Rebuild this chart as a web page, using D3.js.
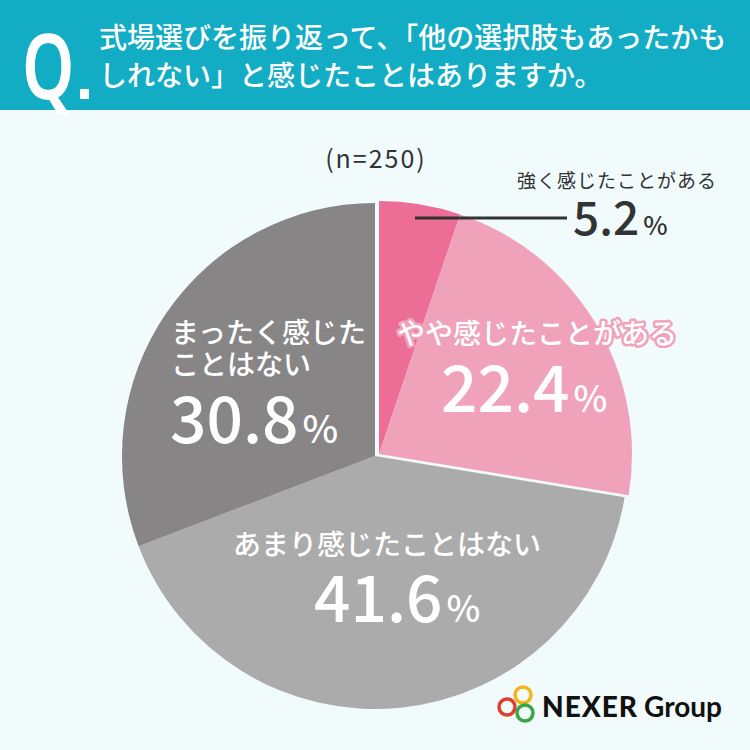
<!DOCTYPE html>
<html>
<head>
<meta charset="utf-8">
<script src="https://cdn.jsdelivr.net/npm/d3@7"></script>
<style>
  html, body { margin: 0; padding: 0; background: #f2fbfc; }
  svg { display: block; }
  text { font-family: "Noto Sans CJK JP", "Noto Sans", sans-serif; }
</style>
</head>
<body>
<div class="Chart"></div>
<script>
// chart data
var categories = ["強く感じたことがある", "やや感じたことがある", "あまり感じたことはない", "まったく感じたことはない"];
var values = [5.2, 22.4, 41.6, 30.8];
var colors = ["#ec6d96", "#f0a2bb", "#ababab", "#878586"];
var titleLines = ["式場選びを振り返って、「他の選択肢もあったかも", "しれない」と感じたことはありますか。"];
var sampleNote = "(n=250)";

var width = 750, height = 750;
var cx = 375, cy = 456, radius = 253;
// first two slices are pulled out a little as one group
var explode = [4, -2];

var svg = d3.select('.Chart').append('svg')
	.attr('width', width)
	.attr('height', height)
	.attr('viewBox', '0 0 ' + width + ' ' + height);

svg.append('rect')
	.attr('width', width)
	.attr('height', height)
	.style('fill', '#f2fbfc');

//header band
svg.append('rect')
	.attr('width', width)
	.attr('height', 110)
	.style('fill', '#12acc4');

svg.append('text')
	.attr('transform', 'translate(22,99) scale(0.74,1)')
	.style('font-family', '"Noto Sans", sans-serif')
	.style('font-size', '90px')
	.style('font-weight', 600)
	.style('fill', '#fff')
	.text('Q');
svg.append('rect')
	.attr('x', 80)
	.attr('y', 89)
	.attr('width', 9)
	.attr('height', 10)
	.style('fill', '#fff');

svg.selectAll('.title')
	.data(titleLines)
	.enter().append('text')
	.attr('class', 'title')
	.attr('x', 99)
	.attr('y', function(d, i) { return 48 + i * 38; })
	.style('font-size', '28px')
	.style('font-weight', 500)
	.style('fill', '#fff')
	.text(function(d) { return d; });

svg.append('text')
	.attr('x', 376)
	.attr('y', 168)
	.attr('text-anchor', 'middle')
	.style('font-size', '25px')
	.style('letter-spacing', '2px')
	.style('fill', '#333')
	.text(sampleNote);

//pie
var pie = d3.pie().sort(null).value(function(d) { return d; });
var arcs = pie(values);
var arc = d3.arc().innerRadius(0).outerRadius(radius);

var g = svg.append('g').attr('transform', 'translate(' + cx + ',' + cy + ')');

g.selectAll('.slice')
	.data(arcs)
	.enter().append('path')
	.attr('class', 'slice')
	.attr('transform', function(d, i) { return i < 2 ? 'translate(' + explode[0] + ',' + explode[1] + ')' : null; })
	.attr('d', arc)
	.style('fill', function(d, i) { return colors[i]; });

function pct(num, x, y, numSize, pctSize, fill) {
	var t = svg.append('text')
		.attr('x', x)
		.attr('y', y)
		.style('fill', fill)
		.style('font-weight', 500);
	t.append('tspan').style('font-size', numSize + 'px').text(num);
	t.append('tspan').attr('dx', 4).style('font-size', pctSize + 'px').text('%');
	return t;
}

//label: strongly
svg.append('line')
	.attr('x1', 415).attr('x2', 567)
	.attr('y1', 218).attr('y2', 218)
	.style('stroke', '#333')
	.style('stroke-width', 3);
svg.append('text')
	.attr('x', 717)
	.attr('y', 188)
	.attr('text-anchor', 'end')
	.style('font-size', '19px')
	.style('letter-spacing', '1px')
	.style('fill', '#333')
	.text(categories[0]);
pct(values[0].toFixed(1), 573, 235, 46, 26, '#333');

//label: somewhat
svg.append('text')
	.attr('x', 537)
	.attr('y', 344)
	.attr('text-anchor', 'middle')
	.style('font-size', '28px')
	.style('font-weight', 500)
	.style('fill', '#fff')
	.style('stroke', colors[1])
	.style('stroke-width', 5)
	.style('stroke-linejoin', 'round')
	.style('paint-order', 'stroke')
	.text(categories[1]);
pct(values[1].toFixed(1), 441, 412, 64, 36, '#fff');

//label: not really
svg.append('text')
	.attr('x', 387)
	.attr('y', 555)
	.attr('text-anchor', 'middle')
	.style('font-size', '28px')
	.style('font-weight', 500)
	.style('fill', '#fff')
	.text(categories[2]);
pct(values[2].toFixed(1), 314, 622, 64, 36, '#fff');

//label: not at all (two lines)
svg.selectAll('.lbl3')
	.data(["まったく感じた", "ことはない"])
	.enter().append('text')
	.attr('class', 'lbl3')
	.attr('x', 171)
	.attr('y', function(d, i) { return 343 + i * 32; })
	.style('font-size', '28px')
	.style('font-weight', 500)
	.style('fill', '#fff')
	.text(function(d) { return d; });
pct(values[3].toFixed(1), 170, 443, 64, 38, '#fff');

//logo
var rings = [
	{ x: 523, y: 695, c: '#f2b51c' },
	{ x: 507, y: 707, c: '#e23c2f' },
	{ x: 525, y: 713, c: '#3aa648' }
];
svg.selectAll('.ring')
	.data(rings)
	.enter().append('circle')
	.attr('class', 'ring')
	.attr('cx', function(d) { return d.x; })
	.attr('cy', function(d) { return d.y; })
	.attr('r', 8)
	.style('fill', 'none')
	.style('stroke', function(d) { return d.c; })
	.style('stroke-width', 3.5);

var logo = svg.append('text')
	.attr('x', 542)
	.attr('y', 717)
	.style('font-family', 'Lato, "Noto Sans", sans-serif')
	.style('font-size', '28px')
	.style('fill', '#111');
logo.append('tspan').style('font-weight', 900).style('letter-spacing', '1px').text('NEXER');
logo.append('tspan').attr('dx', 6).style('font-weight', 700).text('Group');
</script>
</body>
</html>
